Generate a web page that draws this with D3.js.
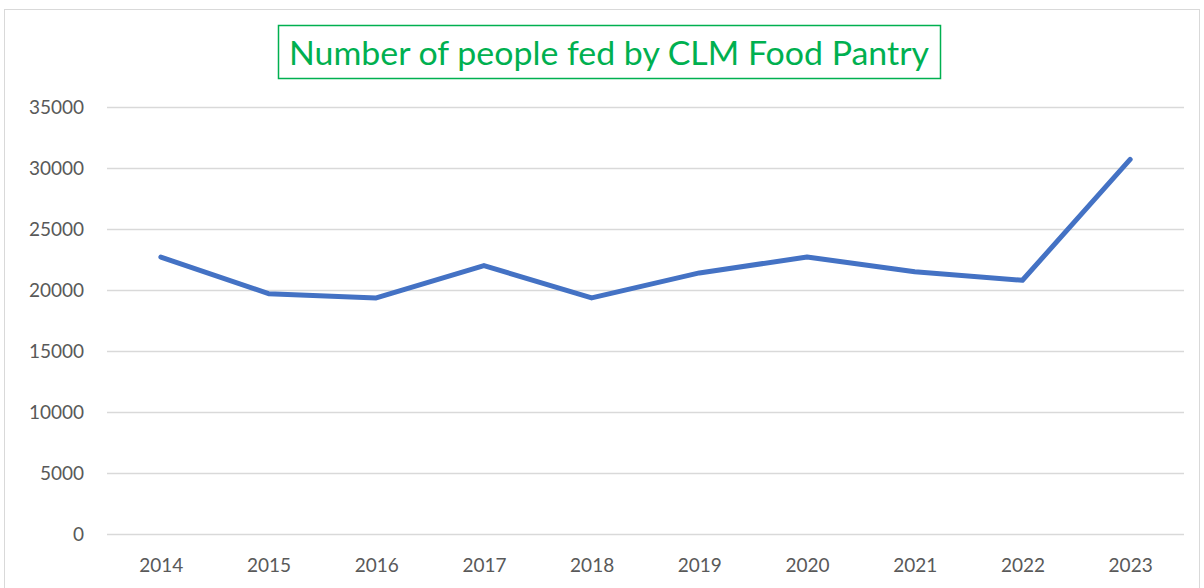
<!DOCTYPE html>
<html>
<head>
<meta charset="utf-8">
<script src="https://cdn.jsdelivr.net/npm/d3@7"></script>
<style>
  body { margin: 0; background: #fff; }
  svg text { font-family: Lato, "Open Sans", sans-serif; }
</style>
</head>
<body>
<script>
// chart data
var years = ["2014", "2015", "2016", "2017", "2018", "2019", "2020", "2021", "2022", "2023"];
var peopleFed = [22700, 19700, 19350, 22000, 19350, 21400, 22700, 21500, 20800, 30700];
var yTicks = [0, 5000, 10000, 15000, 20000, 25000, 30000, 35000];
var titulo = "Number of people fed by CLM Food Pantry";

var svgW = 1204;
var svgH = 588;
var plotLeft = 107, plotRight = 1184, plotTop = 107, plotBottom = 534;

var svg = d3.select("body").append("svg")
    .attr("width", svgW)
    .attr("height", svgH);

// outer chart frame
svg.append("rect")
    .attr("x", 4.5).attr("y", 9.5)
    .attr("width", 1195).attr("height", 600)
    .attr("fill", "#fff")
    .attr("stroke", "#d9d9d9")
    .attr("stroke-width", 1);

var xScale = d3.scalePoint()
    .domain(years)
    .range([plotLeft, plotRight])
    .padding(0.5);

var yScale = d3.scaleLinear()
    .domain([0, 35000])
    .range([plotBottom, plotTop]);

// gridlines + y labels
var yAxis = d3.axisLeft(yScale)
    .tickValues(yTicks)
    .tickSizeInner(-(plotRight - plotLeft))
    .tickSizeOuter(0)
    .tickPadding(23)
    .tickFormat(d3.format("d"));

var gy = svg.append("g")
    .attr("transform", "translate(" + plotLeft + ",0)")
    .call(yAxis);
gy.select(".domain").remove();
gy.selectAll("line").attr("stroke", "#d9d9d9").attr("stroke-width", 1.5);
gy.selectAll("text")
    .attr("fill", "#595959")
    .attr("font-size", 19);

var xAxis = d3.axisBottom(xScale)
    .tickSize(0)
    .tickPadding(25);

var gx = svg.append("g")
    .attr("transform", "translate(0," + plotBottom + ")")
    .call(xAxis);
gx.select(".domain").remove();
gx.selectAll("text")
    .attr("fill", "#595959")
    .attr("font-size", 19);

// line
var line = d3.line()
    .x(function(d, i) { return xScale(years[i]); })
    .y(function(d) { return yScale(d); });

svg.append("path")
    .datum(peopleFed)
    .attr("d", line)
    .attr("fill", "none")
    .attr("stroke", "#4472C4")
    .attr("stroke-width", 5)
    .attr("stroke-linejoin", "round")
    .attr("stroke-linecap", "round");

// title with box
svg.append("rect")
    .attr("x", 278.5).attr("y", 25.5)
    .attr("width", 662).attr("height", 53)
    .attr("fill", "#fff")
    .attr("stroke", "#00B050")
    .attr("stroke-width", 1.5);

svg.append("text")
    .attr("x", 609)
    .attr("y", 65)
    .attr("text-anchor", "middle")
    .attr("fill", "#00B050")
    .attr("font-size", 33)
    .attr("textLength", 640)
    .attr("lengthAdjust", "spacingAndGlyphs")
    .text(titulo);
</script>
</body>
</html>
